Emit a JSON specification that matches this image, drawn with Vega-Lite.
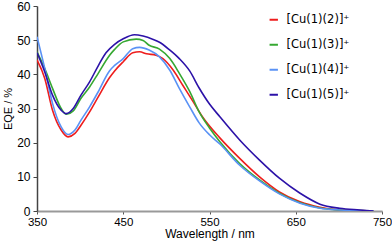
{
  "$schema": "https://vega.github.io/schema/vega-lite/v6.json",
  "width": 345,
  "height": 205,
  "autosize": "none",
  "padding": {"left": 37, "top": 6, "right": 10, "bottom": 31},
  "background": "white",
  "config": {"view": {"stroke": null}, "font": "Liberation Sans"},
  "data": {"values": [
    {"s":"[Cu(1)(2)]⁺","wl":350,"eqe":44.2},{"s":"[Cu(1)(2)]⁺","wl":359,"eqe":38.8},{"s":"[Cu(1)(2)]⁺","wl":368,"eqe":29.5},{"s":"[Cu(1)(2)]⁺","wl":378,"eqe":23.7},{"s":"[Cu(1)(2)]⁺","wl":386,"eqe":21.7},{"s":"[Cu(1)(2)]⁺","wl":394,"eqe":22.7},{"s":"[Cu(1)(2)]⁺","wl":401,"eqe":25.1},{"s":"[Cu(1)(2)]⁺","wl":411,"eqe":29},{"s":"[Cu(1)(2)]⁺","wl":421,"eqe":33.4},{"s":"[Cu(1)(2)]⁺","wl":434,"eqe":39},{"s":"[Cu(1)(2)]⁺","wl":440,"eqe":41},{"s":"[Cu(1)(2)]⁺","wl":450,"eqe":43.7},{"s":"[Cu(1)(2)]⁺","wl":461,"eqe":46.3},{"s":"[Cu(1)(2)]⁺","wl":469,"eqe":46.6},{"s":"[Cu(1)(2)]⁺","wl":477,"eqe":46},{"s":"[Cu(1)(2)]⁺","wl":488,"eqe":45.6},{"s":"[Cu(1)(2)]⁺","wl":496,"eqe":44.6},{"s":"[Cu(1)(2)]⁺","wl":508,"eqe":41.2},{"s":"[Cu(1)(2)]⁺","wl":519,"eqe":36.8},{"s":"[Cu(1)(2)]⁺","wl":531,"eqe":32},{"s":"[Cu(1)(2)]⁺","wl":542,"eqe":27.5},{"s":"[Cu(1)(2)]⁺","wl":562,"eqe":21.4},{"s":"[Cu(1)(2)]⁺","wl":585,"eqe":15.4},{"s":"[Cu(1)(2)]⁺","wl":608,"eqe":10},{"s":"[Cu(1)(2)]⁺","wl":631,"eqe":5.6},{"s":"[Cu(1)(2)]⁺","wl":655,"eqe":2.7},{"s":"[Cu(1)(2)]⁺","wl":678,"eqe":1.1},{"s":"[Cu(1)(2)]⁺","wl":701,"eqe":0.3},{"s":"[Cu(1)(2)]⁺","wl":724,"eqe":0.1},{"s":"[Cu(1)(2)]⁺","wl":740,"eqe":0},
    {"s":"[Cu(1)(3)]⁺","wl":350,"eqe":46.6},{"s":"[Cu(1)(3)]⁺","wl":359,"eqe":41.7},{"s":"[Cu(1)(3)]⁺","wl":368,"eqe":35.9},{"s":"[Cu(1)(3)]⁺","wl":378,"eqe":30},{"s":"[Cu(1)(3)]⁺","wl":384,"eqe":28.3},{"s":"[Cu(1)(3)]⁺","wl":392,"eqe":29.3},{"s":"[Cu(1)(3)]⁺","wl":401,"eqe":33},{"s":"[Cu(1)(3)]⁺","wl":411,"eqe":36.3},{"s":"[Cu(1)(3)]⁺","wl":421,"eqe":40.3},{"s":"[Cu(1)(3)]⁺","wl":434,"eqe":45.5},{"s":"[Cu(1)(3)]⁺","wl":440,"eqe":47.3},{"s":"[Cu(1)(3)]⁺","wl":450,"eqe":49.5},{"s":"[Cu(1)(3)]⁺","wl":465,"eqe":50.3},{"s":"[Cu(1)(3)]⁺","wl":473,"eqe":49.9},{"s":"[Cu(1)(3)]⁺","wl":480,"eqe":48.5},{"s":"[Cu(1)(3)]⁺","wl":492,"eqe":47.4},{"s":"[Cu(1)(3)]⁺","wl":504,"eqe":44.6},{"s":"[Cu(1)(3)]⁺","wl":515,"eqe":40.3},{"s":"[Cu(1)(3)]⁺","wl":527,"eqe":35},{"s":"[Cu(1)(3)]⁺","wl":538,"eqe":29},{"s":"[Cu(1)(3)]⁺","wl":550,"eqe":24.3},{"s":"[Cu(1)(3)]⁺","wl":562,"eqe":20.3},{"s":"[Cu(1)(3)]⁺","wl":585,"eqe":13.9},{"s":"[Cu(1)(3)]⁺","wl":608,"eqe":9.1},{"s":"[Cu(1)(3)]⁺","wl":631,"eqe":5.2},{"s":"[Cu(1)(3)]⁺","wl":655,"eqe":2.4},{"s":"[Cu(1)(3)]⁺","wl":678,"eqe":0.9},{"s":"[Cu(1)(3)]⁺","wl":701,"eqe":0.3},{"s":"[Cu(1)(3)]⁺","wl":724,"eqe":0.1},{"s":"[Cu(1)(3)]⁺","wl":740,"eqe":0},
    {"s":"[Cu(1)(4)]⁺","wl":350,"eqe":51},{"s":"[Cu(1)(4)]⁺","wl":359,"eqe":41.7},{"s":"[Cu(1)(4)]⁺","wl":368,"eqe":31.5},{"s":"[Cu(1)(4)]⁺","wl":378,"eqe":24.6},{"s":"[Cu(1)(4)]⁺","wl":386,"eqe":22.4},{"s":"[Cu(1)(4)]⁺","wl":394,"eqe":23.7},{"s":"[Cu(1)(4)]⁺","wl":401,"eqe":26.6},{"s":"[Cu(1)(4)]⁺","wl":411,"eqe":30.5},{"s":"[Cu(1)(4)]⁺","wl":421,"eqe":34.9},{"s":"[Cu(1)(4)]⁺","wl":434,"eqe":41},{"s":"[Cu(1)(4)]⁺","wl":440,"eqe":42.6},{"s":"[Cu(1)(4)]⁺","wl":450,"eqe":44.6},{"s":"[Cu(1)(4)]⁺","wl":461,"eqe":47.5},{"s":"[Cu(1)(4)]⁺","wl":469,"eqe":47.9},{"s":"[Cu(1)(4)]⁺","wl":480,"eqe":47.1},{"s":"[Cu(1)(4)]⁺","wl":492,"eqe":45.1},{"s":"[Cu(1)(4)]⁺","wl":504,"eqe":41.2},{"s":"[Cu(1)(4)]⁺","wl":515,"eqe":35.9},{"s":"[Cu(1)(4)]⁺","wl":527,"eqe":30.5},{"s":"[Cu(1)(4)]⁺","wl":538,"eqe":25.8},{"s":"[Cu(1)(4)]⁺","wl":550,"eqe":22.3},{"s":"[Cu(1)(4)]⁺","wl":562,"eqe":19.6},{"s":"[Cu(1)(4)]⁺","wl":585,"eqe":13.4},{"s":"[Cu(1)(4)]⁺","wl":608,"eqe":8.8},{"s":"[Cu(1)(4)]⁺","wl":631,"eqe":5},{"s":"[Cu(1)(4)]⁺","wl":655,"eqe":2.3},{"s":"[Cu(1)(4)]⁺","wl":678,"eqe":0.8},{"s":"[Cu(1)(4)]⁺","wl":701,"eqe":0.3},{"s":"[Cu(1)(4)]⁺","wl":724,"eqe":0.1},{"s":"[Cu(1)(4)]⁺","wl":740,"eqe":0},
    {"s":"[Cu(1)(5)]⁺","wl":350,"eqe":46.4},{"s":"[Cu(1)(5)]⁺","wl":359,"eqe":40.7},{"s":"[Cu(1)(5)]⁺","wl":368,"eqe":33.9},{"s":"[Cu(1)(5)]⁺","wl":378,"eqe":29.5},{"s":"[Cu(1)(5)]⁺","wl":384,"eqe":28.5},{"s":"[Cu(1)(5)]⁺","wl":392,"eqe":30},{"s":"[Cu(1)(5)]⁺","wl":401,"eqe":33.9},{"s":"[Cu(1)(5)]⁺","wl":411,"eqe":37.8},{"s":"[Cu(1)(5)]⁺","wl":421,"eqe":42.5},{"s":"[Cu(1)(5)]⁺","wl":430,"eqe":46.3},{"s":"[Cu(1)(5)]⁺","wl":440,"eqe":48.8},{"s":"[Cu(1)(5)]⁺","wl":450,"eqe":50.4},{"s":"[Cu(1)(5)]⁺","wl":463,"eqe":51.6},{"s":"[Cu(1)(5)]⁺","wl":473,"eqe":51.2},{"s":"[Cu(1)(5)]⁺","wl":484,"eqe":50.3},{"s":"[Cu(1)(5)]⁺","wl":492,"eqe":49.4},{"s":"[Cu(1)(5)]⁺","wl":504,"eqe":47.1},{"s":"[Cu(1)(5)]⁺","wl":515,"eqe":44.6},{"s":"[Cu(1)(5)]⁺","wl":527,"eqe":41},{"s":"[Cu(1)(5)]⁺","wl":538,"eqe":36},{"s":"[Cu(1)(5)]⁺","wl":550,"eqe":31.3},{"s":"[Cu(1)(5)]⁺","wl":562,"eqe":27.6},{"s":"[Cu(1)(5)]⁺","wl":585,"eqe":20.8},{"s":"[Cu(1)(5)]⁺","wl":608,"eqe":14.9},{"s":"[Cu(1)(5)]⁺","wl":631,"eqe":9.6},{"s":"[Cu(1)(5)]⁺","wl":655,"eqe":5.2},{"s":"[Cu(1)(5)]⁺","wl":678,"eqe":2},{"s":"[Cu(1)(5)]⁺","wl":701,"eqe":0.8},{"s":"[Cu(1)(5)]⁺","wl":724,"eqe":0.3},{"s":"[Cu(1)(5)]⁺","wl":740,"eqe":0}
  ]},
  "mark": {"type": "line", "interpolate": "monotone", "strokeWidth": 1.6, "clip": true},
  "encoding": {
    "x": {"field": "wl", "type": "quantitative", "title": "Wavelength / nm",
      "scale": {"domain": [350, 750], "nice": false, "zero": false},
      "axis": {"values": [350, 450, 550, 650, 750], "grid": false, "domainColor": "#999999", "domainWidth": 2, "tickColor": "#555555", "tickSize": 3, "labelFontSize": 11.5, "labelColor": "#000000", "labelPadding": 2, "titleFontSize": 12, "titleFontWeight": "normal", "titleColor": "#000000", "titlePadding": 1, "labelFlush": false}},
    "y": {"field": "eqe", "type": "quantitative", "title": "EQE / %",
      "scale": {"domain": [0, 60], "nice": false},
      "axis": {"values": [0, 10, 20, 30, 40, 50, 60], "grid": false, "domainColor": "#444444", "domainWidth": 1.5, "tickColor": "#444444", "tickSize": 4, "labelFontSize": 12, "labelColor": "#000000", "labelPadding": 3, "titleFontSize": 11, "titleFontWeight": "normal", "titleColor": "#000000", "titlePadding": 3, "labelFlush": false}},
    "color": {"field": "s", "type": "nominal", "title": null,
      "scale": {"range": ["#ee1d1d", "#36a832", "#5a92f5", "#2c12a8"]},
      "legend": {"orient": "none", "legendX": 231, "legendY": 8, "symbolType": "stroke", "symbolSize": 70, "symbolStrokeWidth": 2, "labelFont": "DejaVu Sans", "labelFontSize": 11.5, "labelColor": "#000000", "rowPadding": 12, "labelOffset": 7}}
  }
}
